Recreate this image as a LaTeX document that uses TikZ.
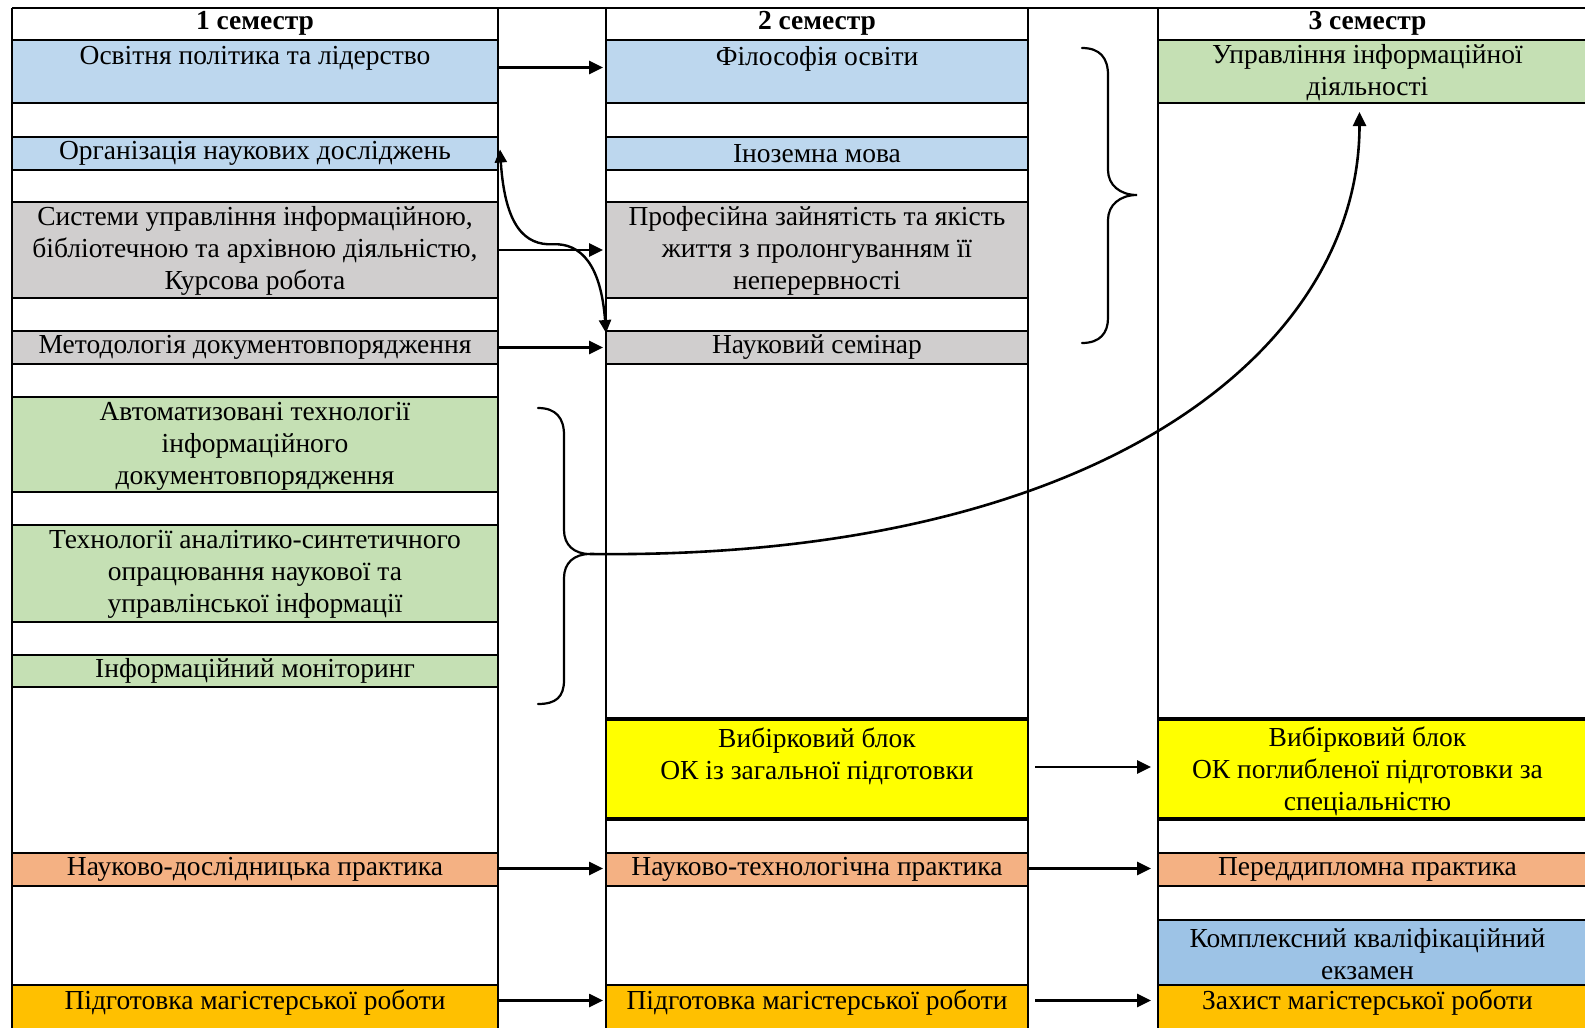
\documentclass[tikz,border=0pt]{standalone}
\usepackage{fontspec}
\setmainfont{Liberation Serif}
\usetikzlibrary{arrows.meta,calc}
\definecolor{blueA}{HTML}{BDD7EE}
\definecolor{blueB}{HTML}{9DC3E6}
\definecolor{grayA}{HTML}{D0CECE}
\definecolor{greenA}{HTML}{C5E0B4}
\definecolor{orangeA}{HTML}{F4B183}
\definecolor{goldA}{HTML}{FFC000}
\definecolor{yellowA}{HTML}{FFFF00}
\tikzset{
  cell/.style={draw=none, inner sep=0pt, outer sep=0pt, anchor=north west},
  txt/.style={inner sep=0pt, align=center, font=\fontsize{27.5}{32}\selectfont},
  htxt/.style={inner sep=0pt, align=center, font=\fontsize{27.5}{32}\selectfont\bfseries},
  hline/.style={line width=1.9pt, black},
  vline/.style={line width=1.4pt, black},
  thickline/.style={line width=3.6pt, black},
  arr/.style={line width=2.6pt, -{Triangle[length=14pt,width=13pt]}},
  darr/.style={line width=2.4pt, {Triangle[length=13pt,width=12pt]}-{Triangle[length=13pt,width=12pt]}},
  brace/.style={line width=2.2pt, line cap=round},
}
% [text shift]{name}{x}{ytop}{width}{height}{fill}{text}
\newcommand\Cell[8][0,0]{%
  \node[cell, fill=#7, minimum width=#5, minimum height=#6] (#2) at (#3,#4) {};
  \draw[hline] (#2.north west) -- (#2.north east);
  \draw[hline] (#2.south west) -- (#2.south east);
  \node[txt] (#2t) at ($(#2.center)+(#1)$) {#8};
}
\newcommand\YCell[8][0,0]{%
  \node[cell, fill=#7, minimum width=#5, minimum height=#6] (#2) at (#3,#4) {};
  \draw[thickline] (#2.north west) -- (#2.north east);
  \draw[thickline] (#2.south west) -- (#2.south east);
  \node[txt] (#2t) at ($(#2.center)+(#1)$) {#8};
}
% bottom cells: top line only (they run off the page)
\newcommand\BCell[8][0,0]{%
  \node[cell, fill=#7, minimum width=#5, minimum height=#6] (#2) at (#3,#4) {};
  \draw[hline] (#2.north west) -- (#2.north east);
  \node[txt] (#2t) at ($(#2.center)+(#1)$) {#8};
}
\begin{document}
\begin{tikzpicture}[x=1pt,y=-1pt]
\useasboundingbox[fill=white] (0,0) rectangle (1585,1028);
\clip (0,0) rectangle (1585,1028);
% headers
\Cell{c1h}{12}{8}{486}{32}{white}{}
\node[htxt] (c1ht) at ($(c1h.center)+(0,-1)$) {1 семестр};
\Cell{c2h}{606}{8}{422}{32}{white}{}
\node[htxt] (c2ht) at ($(c2h.center)+(0,-1)$) {2 семестр};
\Cell{c3h}{1158}{8}{427}{32}{white}{}
\node[htxt] (c3ht) at ($(c3h.center)+(-4,-1)$) {3 семестр};
\draw[hline] (c1h.north east) -- (c2h.north west);
\draw[hline] (c2h.north east) -- (c3h.north west);
% column 1
\Cell[0,-13]{c1a}{12}{40}{486}{63}{blueA}{Освітня політика та лідерство}
\Cell{c1b}{12}{137}{486}{33}{blueA}{Організація наукових досліджень}
\Cell[0,1]{c1c}{12}{202}{486}{96}{grayA}{Системи управління інформаційною,\\бібліотечною та архівною діяльністю,\\Курсова робота}
\Cell{c1d}{12}{331}{486}{33}{grayA}{Методологія документовпорядження}
\Cell[0,1.5]{c1e}{12}{397}{486}{95}{greenA}{Автоматизовані технології\\інформаційного\\документовпорядження}
\Cell[0,0.5]{c1f}{12}{525}{486}{97}{greenA}{Технології аналітико-синтетичного\\опрацювання наукової та\\управлінської інформації}
\Cell{c1g}{12}{655}{486}{32}{greenA}{Інформаційний моніторинг}
\Cell{c1i}{12}{853}{486}{33}{orangeA}{Науково-дослідницька практика}
\BCell[0,-4]{c1j}{12}{985}{486}{43}{goldA}{Підготовка магістерської роботи}
% column 2
\Cell[0,-13]{c2a}{606}{40}{422}{63}{blueA}{Філософія освіти}
\Cell{c2b}{606}{137}{422}{33}{blueA}{Іноземна мова}
\Cell[0,1]{c2c}{606}{202}{422}{96}{grayA}{Професійна зайнятість та якість\\життя з пролонгуванням її\\неперервності}
\Cell{c2d}{606}{331}{422}{33}{grayA}{Науковий семінар}
\YCell[0,-13]{c2e}{606}{719}{422}{100}{yellowA}{Вибірковий блок\\ОК із загальної підготовки}
\Cell{c2f}{606}{853}{422}{33}{orangeA}{Науково-технологічна практика}
\BCell[0,-4]{c2g}{606}{985}{422}{43}{goldA}{Підготовка магістерської роботи}
% column 3
\Cell[-4,1.5]{c3a}{1158}{40}{427}{63}{greenA}{Управління інформаційної\\діяльності}
\YCell[-4,2]{c3b}{1158}{719}{427}{100}{yellowA}{Вибірковий блок\\ОК поглибленої підготовки за\\спеціальністю}
\Cell[-4,0]{c3c}{1158}{853}{427}{33}{orangeA}{Переддипломна практика}
\Cell[-4,1.5]{c3d}{1158}{920}{427}{65}{blueB}{Комплексний кваліфікаційний\\екзамен}
\BCell[-4,-4]{c3e}{1158}{985}{427}{43}{goldA}{Захист магістерської роботи}
% vertical column lines
\draw[vline] (c1h.north west) -- (c1h.north west |- c1j.south);
\draw[vline] (c1h.north east) -- (c1h.north east |- c1j.south);
\draw[vline] (c2h.north west) -- (c2h.north west |- c2g.south);
\draw[vline] (c2h.north east) -- (c2h.north east |- c2g.south);
\draw[vline] (c3h.north west) -- (c3h.north west |- c3e.south);
% straight arrows
\draw[arr, shorten >=3pt] ([yshift=4pt]c1a.east) -- ([yshift=4pt]c2a.west);
\draw[arr, shorten >=3pt] (c1c.east) -- (c2c.west);
\draw[arr, shorten >=3pt] (c1d.east) -- (c2d.west);
\draw[arr, shorten >=3pt] ([yshift=1pt]c1i.east) -- ([yshift=1pt]c2f.west);
\draw[arr, shorten >=3pt] ([yshift=6pt]c1j.east) -- ([yshift=6pt]c2g.west);
\draw[arr, shorten <=7pt, shorten >=7pt] ([yshift=2pt]c2e.east) -- ([yshift=2pt]c3b.west);
\draw[arr, shorten >=7pt] ([yshift=1pt]c2f.east) -- ([yshift=1pt]c3c.west);
\draw[arr, shorten <=7pt, shorten >=7pt] ([yshift=6pt]c2g.east) -- ([yshift=6pt]c3e.west);
% S-shaped double arrow
\coordinate (sA) at ($(c1b.east)+(2,-4)$);
\coordinate (sB) at ($(c2d.north west)+(0,2)$);
\draw[darr] (sA) .. controls ($(sA)+(5,77)$) and ($(sA)+(25,96)$) .. ($(sA)!0.5!(sB)+(0,3)$)
  .. controls ($(sB)+(-25,-90)$) and ($(sB)+(-5,-68)$) .. (sB);
% brace 1 (semester 2 group)
\draw[brace] (1082,48) .. controls (1100,48) and (1108,58) .. (1108,75) -- (1108,170)
  .. controls (1108,185) and (1120,195) .. (1137,195)
  .. controls (1120,195) and (1108,205) .. (1108,220) -- (1108,318)
  .. controls (1108,333) and (1100,343) .. (1082,343);
% brace 2 (green group)
\coordinate (bt) at (590,554);
\draw[brace] (538,408) .. controls (556,408) and (564,418) .. (564,435) -- (564,530)
  .. controls (564,545) and (574,554) .. (bt)
  .. controls (574,554) and (564,563) .. (564,578) -- (564,680)
  .. controls (564,697) and (556,704) .. (538,704);
\coordinate (uT) at ($(c3a.south)+(-12,9)$);
\draw[arr] (bt) .. controls (1100,560) and (uT |- 0,350) .. (uT);
\end{tikzpicture}
\end{document}
